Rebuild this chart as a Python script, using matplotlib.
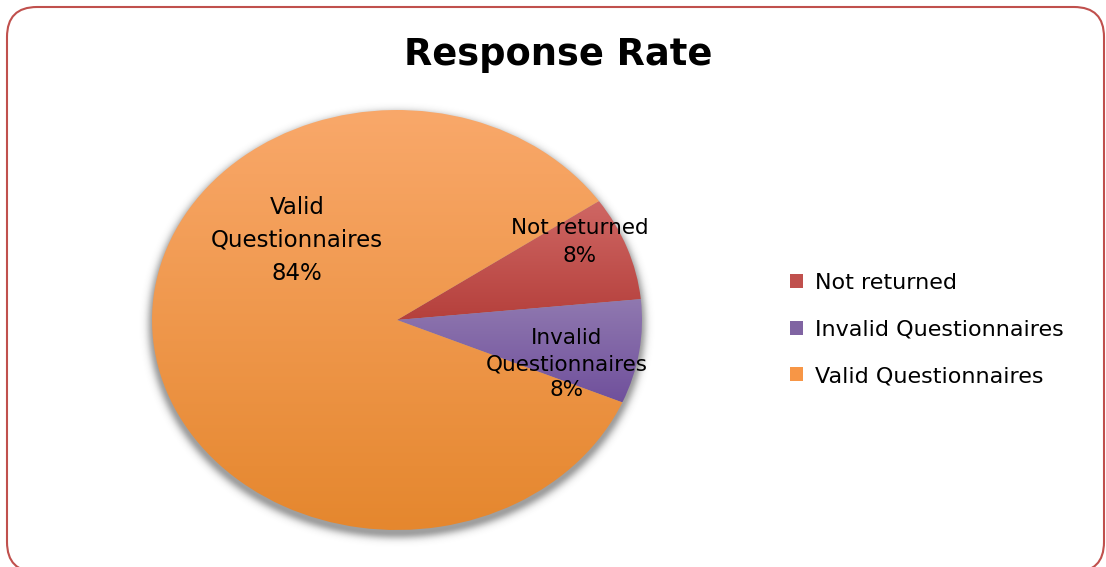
import numpy as np
import matplotlib
matplotlib.use("Agg")
import matplotlib.pyplot as plt
from matplotlib.patches import FancyBboxPatch
from matplotlib.colors import LinearSegmentedColormap

categories = ["Not returned", "Invalid Questionnaires", "Valid Questionnaires"]
values = [8, 8, 84]
pie_labels = ["Not returned", "Invalid\nQuestionnaires", "Valid\nQuestionnaires"]
title = "Response Rate"

# light (top) -> dark (bottom) shades for each slice
top_colors = ["#CF6764", "#9079B0", "#F9A86A"]
bottom_colors = ["#B5403C", "#70509C", "#E5872E"]
legend_colors = ["#C0504D", "#8064A2", "#F79646"]

FONT = "DejaVu Sans"
W, H = 1106, 567
RX, RY = 245, 210          # pie radii in pixels

fig = plt.figure(figsize=(W / 100, H / 100), dpi=100)

# rounded chart-area frame (in inches)
frame = FancyBboxPatch((0.07 + 0.3, -0.05 + 0.3), 10.97 - 0.6, 5.65 - 0.6,
                       boxstyle="round,pad=0.3", transform=fig.dpi_scale_trans,
                       facecolor="white", edgecolor="#C0504D", linewidth=1.5,
                       zorder=-5)
fig.add_artist(frame)

fig.text(0.505, 0.903, title, ha="center", va="center", fontsize=26.5,
         fontweight="bold", family=FONT)

ax = fig.add_axes([(397 - RX) / W, 37 / H, 2 * RX / W, 2 * RY / H])
ax.patch.set_visible(False)

# soft drop shadow: blurred ellipse a few pixels below the pie
sx0, sx1, sy0, sy1 = -1.08, 1.08, -1.14, 1.06
nx, ny = int((sx1 - sx0) * RX), int((sy1 - sy0) * RY)
px = np.linspace(sx0, sx1, nx) * RX
py = np.linspace(sy0, sy1, ny) * RY + 5.0
PX, PY = np.meshgrid(px, py)
f = (PX / RX) ** 2 + (PY / RY) ** 2 - 1
g = np.hypot(2 * PX / RX ** 2, 2 * PY / RY ** 2) + 1e-9
dist = f / g
alpha = 0.5 * np.exp(-(np.clip(dist + 1.5, 0, None) / 6.5) ** 2)
shadow = np.zeros((ny, nx, 4))
shadow[..., :3] = 0.25
shadow[..., 3] = alpha
ax.imshow(shadow, origin="lower", extent=[sx0, sx1, sy0, sy1], aspect="auto",
          zorder=0, clip_on=False, interpolation="bilinear")

wedges, _ = ax.pie(values, startangle=34.5, counterclock=False, radius=1,
                   center=(0, 0), frame=True,
                   wedgeprops=dict(linewidth=0, edgecolor="none"))
ax.set_aspect("auto")
ax.axis("off")

for w, ct, cb in zip(wedges, top_colors, bottom_colors):
    w.set_facecolor("none")
    ext = w.get_path().get_extents(w.get_patch_transform())
    cmap = LinearSegmentedColormap.from_list("g", [cb, ct])
    grad = np.linspace(0, 1, 256).reshape(-1, 1)
    im = ax.imshow(grad, cmap=cmap, origin="lower", aspect="auto",
                   extent=[ext.x0, ext.x1, ext.y0, ext.y1], zorder=1,
                   interpolation="bilinear")
    im.set_clip_path(w)
ax.set_xlim(-1, 1)
ax.set_ylim(-1, 1)

total = sum(values)
label_pos = [(0.747, 0.373), (0.692, -0.21), (-0.408, 0.380)]
label_size = [15.5, 15.5, 16.5]
label_spacing = [1.5, 1.4, 1.55]
for lab, v, (x, y), fs, ls in zip(pie_labels, values, label_pos, label_size,
                                  label_spacing):
    ax.text(x, y, f"{lab}\n{round(100 * v / total)}%", ha="center", va="center",
            fontsize=fs, family=FONT, linespacing=ls, zorder=3)

handles = [plt.Rectangle((0, 0), 1, 1, facecolor=c, edgecolor="none")
           for c in legend_colors]
fig.legend(handles, categories, loc="center left", bbox_to_anchor=(0.696, 0.419),
           frameon=False, prop=dict(family=FONT, size=16), handlelength=0.6,
           handleheight=0.6, labelspacing=1.2, handletextpad=0.55)

fig.savefig("out.png", dpi=100)
